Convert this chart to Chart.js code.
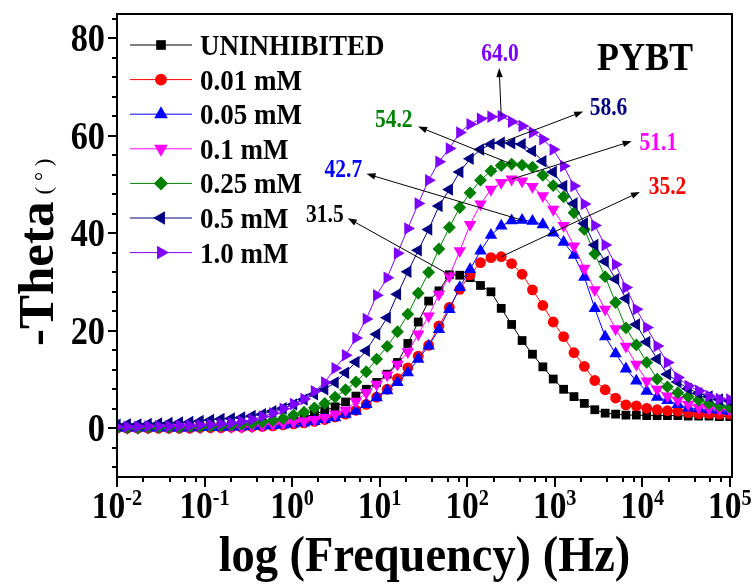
<!DOCTYPE html>
<html>
<head>
<meta charset="utf-8">
<title>PYBT - Bode phase</title>
<script src="https://cdn.jsdelivr.net/npm/chart.js@4.4.1/dist/chart.umd.min.js"></script>
<style>
    html, body { margin: 0; padding: 0; background: #fff; }
    #wrap { width: 753px; height: 584px; }
</style>
</head>
<body>
<div id="wrap"><canvas id="bodeCanvas" width="753" height="584"></canvas></div>
<script>
(function () {
    'use strict';

    // measured frequencies, 100 kHz down to 10 mHz
    var frequencyHz = [100000, 76100, 57900, 44100, 33500, 25500, 19400, 14800, 11250, 8560,
        6510, 4960, 3770, 2870, 2180, 1660, 1265, 962, 732, 557,
        424, 322, 245, 187, 142, 108, 82.3, 62.6, 47.6, 36.3,
        27.6, 21.0, 16.0, 12.2, 9.25, 7.04, 5.36, 4.08, 3.10, 2.36,
        1.80, 1.37, 1.04, 0.791, 0.602, 0.458, 0.349, 0.265, 0.202, 0.154,
        0.117, 0.0889, 0.0677, 0.0515, 0.0392, 0.0298, 0.0227, 0.0173, 0.0131, 0.01];

    // -theta (degrees) for each frequency above
    var thetaBlank = [2.4, 2.4, 2.5, 2.5, 2.5, 2.6, 2.6, 2.6, 2.6, 2.7,
        2.7, 2.9, 3.1, 3.8, 5.1, 6.5, 8.0, 10.1, 12.6, 15.2,
        18.0, 21.3, 24.6, 28.0, 29.3, 30.9, 31.4, 31.5, 28.2, 26.1,
        21.8, 17.4, 13.5, 11.1, 9.4, 8.0, 6.6, 5.4, 4.4, 3.6,
        2.9, 2.3, 1.9, 1.5, 1.2, 1.0, 0.8, 0.7, 0.6, 0.5,
        0.5, 0.4, 0.4, 0.3, 0.3, 0.3, 0.3, 0.2, 0.2, 0.2];
    var theta001 = [2.9, 2.9, 3.0, 3.0, 3.2, 3.5, 3.6, 3.8, 4.1, 4.6,
        4.8, 6.2, 7.9, 9.8, 12.7, 15.5, 18.8, 21.8, 25.2, 28.4,
        31.6, 33.8, 35.2, 35.0, 34.0, 31.5, 28.5, 24.8, 21.0, 17.0,
        14.8, 12.4, 10.2, 8.0, 6.4, 4.9, 3.7, 2.9, 2.3, 1.8,
        1.4, 1.1, 0.9, 0.7, 0.5, 0.4, 0.3, 0.2, 0.2, 0.1,
        0.1, 0.1, 0.0, 0.0, 0.0, 0.0, 0.0, 0.0, 0.0, 0.0];
    var theta005 = [3.5, 3.7, 3.8, 4.0, 4.2, 4.9, 5.7, 6.4, 7.6, 9.7,
        12.2, 15.3, 18.8, 24.6, 31.0, 35.5, 38.2, 40.1, 41.8, 42.5,
        42.7, 42.6, 41.5, 39.6, 36.4, 32.6, 28.9, 24.4, 20.3, 16.9,
        14.2, 11.4, 9.4, 7.7, 6.3, 4.9, 3.5, 2.9, 2.2, 1.8,
        1.4, 1.1, 0.9, 0.7, 0.6, 0.5, 0.4, 0.3, 0.3, 0.2,
        0.2, 0.2, 0.1, 0.1, 0.1, 0.1, 0.1, 0.1, 0.1, 0.1];
    var theta01 = [3.8, 3.9, 4.1, 4.3, 4.9, 5.8, 6.6, 8.0, 9.7, 13.1,
        16.8, 20.4, 24.4, 28.4, 32.8, 37.4, 41.6, 44.9, 47.7, 49.6,
        50.7, 51.1, 50.4, 49.0, 46.0, 41.8, 36.4, 31.2, 27.5, 23.0,
        19.3, 15.7, 13.1, 10.9, 9.0, 7.3, 5.5, 3.7, 2.9, 2.2,
        1.8, 1.5, 1.2, 1.0, 0.8, 0.6, 0.4, 0.3, 0.3, 0.3,
        0.3, 0.2, 0.2, 0.2, 0.2, 0.2, 0.2, 0.1, 0.1, 0.1];
    var theta025 = [4.3, 4.6, 5.1, 5.8, 6.5, 7.3, 8.5, 10.1, 13.5, 17.1,
        20.6, 25.8, 31.1, 35.8, 40.8, 44.2, 47.5, 49.8, 51.9, 53.6,
        54.0, 54.2, 53.9, 52.8, 50.9, 48.3, 45.3, 41.2, 36.8, 32.0,
        27.7, 23.4, 19.8, 16.8, 14.2, 11.6, 9.5, 7.9, 6.4, 5.1,
        4.2, 3.3, 2.7, 2.0, 1.6, 1.3, 1.0, 0.8, 0.6, 0.5,
        0.4, 0.3, 0.3, 0.2, 0.2, 0.2, 0.2, 0.1, 0.1, 0.1];
    var theta05 = [5.6, 5.9, 6.5, 7.2, 8.1, 9.5, 11.1, 14.2, 17.7, 21.3,
        26.6, 30.6, 34.2, 37.6, 42.0, 46.1, 49.7, 52.6, 54.8, 56.9,
        58.3, 58.5, 58.6, 58.3, 57.2, 55.3, 52.6, 49.0, 45.6, 40.8,
        36.5, 32.1, 27.5, 22.7, 19.3, 15.9, 13.6, 11.4, 9.4, 8.0,
        7.0, 5.9, 4.9, 4.1, 3.5, 2.9, 2.5, 2.2, 2.0, 1.9,
        1.7, 1.5, 1.3, 1.2, 1.1, 1.0, 0.9, 0.8, 0.8, 0.7];
    var theta10 = [5.9, 6.0, 6.6, 7.7, 8.7, 10.4, 13.5, 16.9, 20.7, 24.4,
        28.9, 33.6, 37.6, 41.6, 46.0, 49.7, 53.8, 57.2, 59.3, 60.7,
        62.0, 62.9, 64.0, 63.9, 63.5, 62.4, 60.7, 57.4, 54.7, 50.9,
        46.1, 41.0, 35.9, 30.9, 27.3, 22.4, 18.5, 15.0, 12.3, 9.4,
        7.6, 6.0, 5.0, 4.0, 3.1, 2.4, 1.8, 1.4, 1.1, 0.9,
        0.7, 0.6, 0.5, 0.5, 0.4, 0.4, 0.4, 0.3, 0.3, 0.3];

    var seriesNames = ['UNINHIBITED', '0.01 mM', '0.05 mM', '0.1 mM', '0.25 mM', '0.5 mM', '1.0 mM'];
    var yTickValues = [0, 20, 40, 60, 80];
    var xTickExponents = [-2, -1, 0, 1, 2, 3, 4, 5];
    var peakLabels = ['31.5', '35.2', '42.7', '51.1', '54.2', '58.6', '64.0'];

    var seriesValues = [thetaBlank, theta001, theta005, theta01, theta025, theta05, theta10];
    var seriesStyle = [
        { color: '#000000', shape: 'rect', rotation: 0, radius: 6.2 },
        { color: '#ff0000', shape: 'circle', rotation: 0, radius: 5.4 },
        { color: '#0000ff', shape: 'triangle', rotation: 0, radius: 7.2 },
        { color: '#ff00ff', shape: 'triangle', rotation: 180, radius: 7.2 },
        { color: '#008000', shape: 'rectRot', rotation: 0, radius: 6.4 },
        { color: '#000080', shape: 'triangle', rotation: 270, radius: 7.2 },
        { color: '#8000ff', shape: 'triangle', rotation: 90, radius: 7.2 }
    ];

    // arrow heads and label centres in data units (Hz, degrees); tails sit on each peak
    var peakNotes = [
        { head: [4.33, 43.1], text: [2.37, 43.9] },
        { head: [9410, 48.5], text: [19400, 49.7] },
        { head: [7.08, 52.2], text: [3.85, 53.1] },
        { head: [7568, 58.9], text: [15310, 58.8] },
        { head: [27.5, 61.9], text: [14.5, 63.5] },
        { head: [2118, 65.0], text: [4110, 66.0] },
        { head: [232, 73.9], text: [237, 76.9] }
    ];

    var SERIF = "'Liberation Serif', 'Times New Roman', serif";

    function drawText(ctx, text, x, y, font, color, align, squeeze) {
        ctx.save();
        ctx.font = font;
        ctx.fillStyle = color;
        ctx.textAlign = 'left';
        ctx.textBaseline = 'alphabetic';
        var w = ctx.measureText(text).width * squeeze;
        var left = x;
        if (align === 'center') {
            left = x - w / 2;
        } else if (align === 'right') {
            left = x - w;
        }
        ctx.translate(left, y);
        ctx.scale(squeeze, 1);
        ctx.fillText(text, 0, 0);
        ctx.restore();
        return w;
    }

    function textWidth(ctx, text, font, squeeze) {
        ctx.save();
        ctx.font = font;
        var w = ctx.measureText(text).width * squeeze;
        ctx.restore();
        return w;
    }

    function drawArrow(ctx, x0, y0, x1, y1) {
        var ang = Math.atan2(y1 - y0, x1 - x0);
        var len = 9;
        var half = 3.2;
        ctx.beginPath();
        ctx.moveTo(x0, y0);
        ctx.lineTo(x1 - Math.cos(ang) * len * 0.8, y1 - Math.sin(ang) * len * 0.8);
        ctx.stroke();
        ctx.beginPath();
        ctx.moveTo(x1, y1);
        ctx.lineTo(x1 - Math.cos(ang) * len - Math.sin(ang) * half, y1 - Math.sin(ang) * len + Math.cos(ang) * half);
        ctx.lineTo(x1 - Math.cos(ang) * len + Math.sin(ang) * half, y1 - Math.sin(ang) * len - Math.cos(ang) * half);
        ctx.closePath();
        ctx.fill();
    }

    function peakIndex(values) {
        var best = 0;
        values.forEach(function (v, i) {
            if (v > values[best]) {
                best = i;
            }
        });
        return best;
    }

    var decorations = {
        id: 'decorations',
        afterDraw: function (chart) {
            var ctx = chart.ctx;
            var area = chart.chartArea;
            var xs = chart.scales.x;
            var ys = chart.scales.y;

            ctx.save();
            ctx.strokeStyle = '#000';
            ctx.fillStyle = '#000';
            ctx.lineWidth = 2;
            ctx.strokeRect(area.left, area.top, area.right - area.left, area.bottom - area.top);

            // y ticks: major every 20, minor every 4
            var v;
            for (v = -8; v <= 84; v += 4) {
                var py = Math.round(ys.getPixelForValue(v));
                var lenY = (v % 20 === 0) ? 9 : 5;
                ctx.beginPath();
                ctx.moveTo(area.left - lenY, py);
                ctx.lineTo(area.left, py);
                ctx.stroke();
            }
            yTickValues.forEach(function (t) {
                var py = ys.getPixelForValue(t);
                drawText(ctx, String(t), area.left - 12, py + 13, 'bold 39px ' + SERIF, '#000', 'right', 0.88);
            });

            // x ticks: decades plus 2,4,6,8
            xTickExponents.forEach(function (e) {
                var base = Math.pow(10, e);
                var px = Math.round(xs.getPixelForValue(base));
                ctx.beginPath();
                ctx.moveTo(px, area.bottom);
                ctx.lineTo(px, area.bottom + 10);
                ctx.stroke();
                if (e < 5) {
                    [2, 4, 6, 8].forEach(function (m) {
                        var pm = Math.round(xs.getPixelForValue(m * base));
                        ctx.beginPath();
                        ctx.moveTo(pm, area.bottom);
                        ctx.lineTo(pm, area.bottom + 5);
                        ctx.stroke();
                    });
                }
                var baseFont = 'bold 38px ' + SERIF;
                var supFont = 'bold 23px ' + SERIF;
                var wBase = textWidth(ctx, '10', baseFont, 0.88);
                var wSup = textWidth(ctx, String(e), supFont, 0.88);
                var left = xs.getPixelForValue(base) - (wBase + wSup) / 2;
                drawText(ctx, '10', left, 518, baseFont, '#000', 'left', 0.88);
                drawText(ctx, String(e), left + wBase, 505, supFont, '#000', 'left', 0.88);
            });

            // axis titles
            drawText(ctx, 'log (Frequency) (Hz)', (area.left + area.right) / 2, 571, 'bold 51px ' + SERIF, '#000', 'center', 0.91);
            ctx.save();
            ctx.translate(53, 346);
            ctx.rotate(-Math.PI / 2);
            var wTheta = drawText(ctx, '-Theta', 0, 0, 'bold 51px ' + SERIF, '#000', 'left', 1.0);
            drawText(ctx, '( \u00b0 )', wTheta + 7, -2, '23px ' + SERIF, '#000', 'left', 1.0);
            ctx.restore();

            drawText(ctx, 'PYBT', 645, 70, 'bold 41px ' + SERIF, '#000', 'center', 0.88);

            // legend
            seriesNames.forEach(function (name, i) {
                var st = seriesStyle[i];
                var ly = 45 + i * 34.6;
                ctx.save();
                ctx.strokeStyle = st.color;
                ctx.fillStyle = st.color;
                ctx.lineWidth = 1;
                ctx.beginPath();
                ctx.moveTo(130, ly);
                ctx.lineTo(192, ly);
                ctx.stroke();
                Chart.helpers.drawPoint(ctx, {
                    pointStyle: st.shape,
                    rotation: st.rotation,
                    radius: st.radius * 1.1,
                    borderWidth: 0
                }, 161, ly);
                ctx.restore();
                drawText(ctx, name, 200, ly + 10, 'bold 30px ' + SERIF, '#000', 'left', 0.9);
            });

            // peak annotations
            ctx.lineWidth = 1;
            peakNotes.forEach(function (note, i) {
                var values = seriesValues[i];
                var k = peakIndex(values);
                var x0 = xs.getPixelForValue(frequencyHz[k]);
                var y0 = ys.getPixelForValue(values[k]);
                var x1 = xs.getPixelForValue(note.head[0]);
                var y1 = ys.getPixelForValue(note.head[1]);
                ctx.strokeStyle = '#000';
                ctx.fillStyle = '#000';
                drawArrow(ctx, x0, y0, x1, y1);
                var tx = xs.getPixelForValue(note.text[0]);
                var ty = ys.getPixelForValue(note.text[1]);
                drawText(ctx, peakLabels[i], tx, ty + 8, 'bold 25px ' + SERIF, seriesStyle[i].color, 'center', 0.86);
            });
            ctx.restore();
        }
    };

    var datasets = seriesValues.map(function (values, idx) {
        var st = seriesStyle[idx];
        return {
            label: seriesNames[idx],
            data: values.map(function (v, i) {
                return { x: frequencyHz[i], y: v };
            }),
            showLine: true,
            borderColor: st.color,
            borderWidth: 1,
            tension: 0,
            pointStyle: st.shape,
            pointRotation: st.rotation,
            pointRadius: st.radius,
            pointHoverRadius: st.radius,
            pointBackgroundColor: st.color,
            pointBorderColor: st.color,
            pointBorderWidth: 0,
            order: seriesValues.length - idx
        };
    });

    new Chart(document.getElementById('bodeCanvas'), {
        type: 'scatter',
        data: { datasets: datasets },
        options: {
            responsive: false,
            animation: false,
            devicePixelRatio: 1,
            layout: { padding: { left: 117, right: 21, top: 14, bottom: 107 } },
            plugins: {
                legend: { display: false },
                tooltip: { enabled: false }
            },
            scales: {
                x: {
                    type: 'logarithmic',
                    min: 0.01,
                    max: 106000,
                    grid: { display: false, drawTicks: false },
                    border: { display: false },
                    ticks: { display: false }
                },
                y: {
                    type: 'linear',
                    min: -10,
                    max: 85,
                    grid: { display: false, drawTicks: false },
                    border: { display: false },
                    ticks: { display: false }
                }
            }
        },
        plugins: [decorations]
    });
})();
</script>
</body>
</html>
